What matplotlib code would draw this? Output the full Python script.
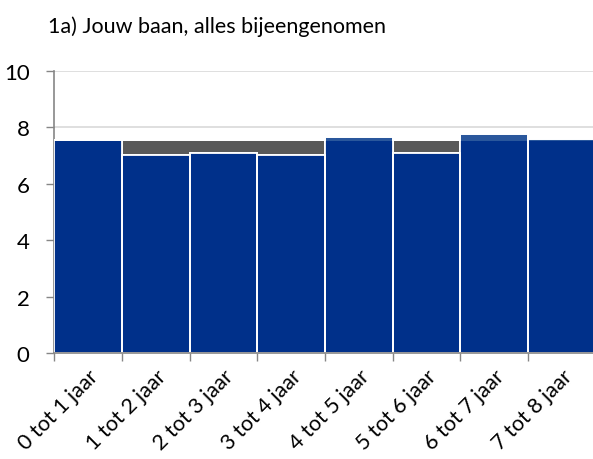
import numpy as np
import matplotlib.pyplot as plt
from matplotlib.ticker import FixedLocator
import matplotlib.transforms as mtransforms

plt.rcParams['font.family'] = ['Lato', 'DejaVu Sans']

title = "1a) Jouw baan, alles bijeengenomen"
categories = ["0 tot 1 jaar", "1 tot 2 jaar", "2 tot 3 jaar", "3 tot 4 jaar",
              "4 tot 5 jaar", "5 tot 6 jaar", "6 tot 7 jaar", "7 tot 8 jaar"]
scores = [7.53, 7.0, 7.1, 7.0, 7.66, 7.08, 7.76, 7.58]
average = 7.52

dark_blue = "#00308a"
light_blue = "#2a579c"
grey = "#595959"

fig = plt.figure(figsize=(5.93, 4.60), dpi=100)
ax = fig.add_axes([0.0919, 0.2304, 0.9123, 0.6137])

x = np.arange(len(categories))
scores = np.array(scores)
# grey reference bar (overall average) behind every category
ax.bar(x, [average] * len(x), width=1.0, color=grey, linewidth=0, zorder=2)
# part of the score above the average is lighter
ax.bar(x, scores, width=1.0, color=light_blue, edgecolor="white", linewidth=1.3, zorder=3)
ax.bar(x, np.minimum(scores, average), width=1.0, color=dark_blue, linewidth=0, zorder=4)
# white separators over the dark parts too
ax.bar(x, scores, width=1.0, fill=False, edgecolor="white", linewidth=1.3, zorder=5)

ax.set_xlim(-0.5, 7.5)
ax.set_ylim(0, 10)
ax.set_yticks([0, 2, 4, 6, 8, 10])
ax.yaxis.grid(True, color="#d9d9d9", linewidth=1.2, zorder=0)
ax.set_axisbelow(True)

ax.set_xticks(x)
ax.set_xticklabels(categories, rotation=45, ha="right", va="top", rotation_mode="anchor")
ax.xaxis.set_minor_locator(FixedLocator(np.arange(-0.5, 8, 1.0)))
ax.tick_params(axis="x", which="major", length=0, pad=9, labelsize=15.5)
ax.tick_params(axis="x", which="minor", length=6, width=1, color="#868686", direction="out")
ax.tick_params(axis="y", length=6, width=1, color="#868686", labelsize=16, pad=12)
offset = mtransforms.ScaledTranslation(0, 0, fig.dpi_scale_trans)
for lbl in ax.get_xticklabels():
    lbl.set_transform(lbl.get_transform() + offset)

for side in ["top", "right"]:
    ax.spines[side].set_visible(False)
for side in ["left", "bottom"]:
    ax.spines[side].set_color("#868686")
    ax.spines[side].set_linewidth(1.2)
ax.spines["bottom"].set_zorder(6)

fig.text(0.081, 1 - 16 / 460, title, fontsize=15.5, ha="left", va="top")

fig.savefig("out.png", dpi=100)
